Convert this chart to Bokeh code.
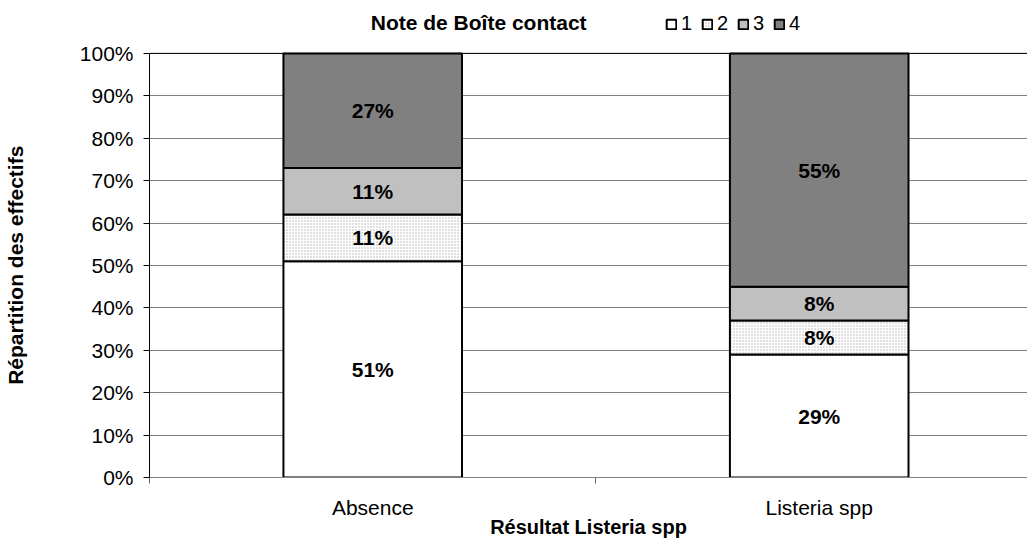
import numpy as np
from bokeh.plotting import figure
from bokeh.models import (ColumnDataSource, FixedTicker, NumeralTickFormatter,
                          Legend, LegendItem, Span, Range1d, Label)
from bokeh.core.properties import value
from bokeh.embed import file_html
from bokeh.resources import INLINE

# ---- data ----
categories = ["Absence", "Listeria spp"]
note_labels = ["1", "2", "3", "4"]
note1 = [51, 29]
note2 = [11, 8]
note3 = [11, 8]
note4 = [27, 55]
legend_title = "Note de Boîte contact"
y_title = "Répartition des effectifs"
x_title = "Résultat Listeria spp"

FONT = "Liberation Sans"
series = [note1, note2, note3, note4]
fills = ["#ffffff", "#ffffff", "#c0c0c0", "#808080"]
hatches = [" ", ".", " ", " "]

xpos = [i + 0.5 for i in range(len(categories))]
fr = np.array(series, dtype=float) / 100.0
cum = np.cumsum(fr, axis=0)
bottoms = cum - fr

# frame spans page y 0..478; 0..100% spans 425 px (53..478)
Y_TOP = 1 + 53 / 425
p = figure(width=1027, height=540, output_backend="svg", toolbar_location=None,
           title=None,
           x_range=Range1d(0, 881 / 448), y_range=Range1d(0, Y_TOP),
           min_border_left=146, min_border_right=0, min_border_top=0,
           min_border_bottom=62)
p.outline_line_color = None
p.background_fill_color = "white"

renderers = []
for i in range(4):
    src = ColumnDataSource(dict(x=xpos, top=cum[i], bottom=bottoms[i]))
    r = p.vbar(x="x", top="top", bottom="bottom", width=0.4, source=src,
               fill_color=fills[i], line_color="black", line_width=2,
               hatch_pattern=hatches[i], hatch_color="#b0b0b0",
               hatch_scale=3, hatch_weight=0.6)
    renderers.append(r)

# value labels
lx, ly, lt = [], [], []
for i in range(4):
    for j in range(len(categories)):
        lx.append(xpos[j])
        ly.append(bottoms[i][j] + fr[i][j] / 2)
        lt.append(f"{series[i][j]}%")
p.text(x=lx, y=ly, text=lt, text_align="center", text_baseline="middle",
       text_font=value(FONT), text_font_style="bold", text_font_size="21px",
       text_color="black")

p.add_layout(Span(location=1.0, dimension="width", line_color="black", line_width=1))

# y axis
p.yaxis.ticker = FixedTicker(ticks=[k / 10 for k in range(11)])
p.yaxis.bounds = (0, 1)
p.yaxis.formatter = NumeralTickFormatter(format="0%")
# trailing no-break spaces centre the rotated title on the 0-100% span
p.yaxis.axis_label = y_title + "\u00a0" * 9
p.yaxis.axis_label_text_font = FONT
p.yaxis.axis_label_text_font_style = "bold"
p.yaxis.axis_label_text_font_size = "21px"
p.yaxis.axis_label_text_color = "black"
p.yaxis.axis_label_standoff = 50
p.yaxis.major_label_text_font = FONT
p.yaxis.major_label_text_font_size = "21px"
p.yaxis.major_label_text_color = "black"
p.yaxis.major_label_standoff = 10
p.yaxis.axis_line_color = "black"
p.yaxis.major_tick_line_color = "black"
p.yaxis.major_tick_out = 6
p.yaxis.major_tick_in = 0
p.yaxis.minor_tick_line_color = None

# x axis
p.xaxis.ticker = FixedTicker(ticks=xpos, minor_ticks=[0, 1, 2])
p.xaxis.major_label_overrides = {xpos[j]: categories[j] for j in range(len(categories))}
p.xaxis.major_tick_line_color = None
p.xaxis.major_tick_out = 6
p.xaxis.minor_tick_line_color = "#606060"
p.xaxis.minor_tick_out = 6
p.xaxis.minor_tick_in = 0
p.xaxis.axis_line_color = "#808080"
p.xaxis.major_label_text_font = FONT
p.xaxis.major_label_text_font_size = "21px"
p.xaxis.major_label_text_color = "black"
p.xaxis.major_label_standoff = 12
p.xaxis.axis_label = x_title
p.xaxis.axis_label_text_font = FONT
p.xaxis.axis_label_text_font_style = "bold"
p.xaxis.axis_label_text_font_size = "20px"
p.xaxis.axis_label_text_color = "black"
p.xaxis.axis_label_standoff = -6

p.xgrid.grid_line_color = None
p.ygrid.grid_line_color = "#808080"
p.ygrid.grid_line_width = 1

# legend title
p.add_layout(Label(x=(368 - 146) / 448, y=1 + (53 - 22) / 425, text=legend_title,
                   text_font=FONT, text_font_style="bold", text_font_size="21px",
                   text_color="black", text_align="left", text_baseline="middle"))

legend = Legend(items=[LegendItem(label=note_labels[i], renderers=[renderers[i]]) for i in range(4)],
                orientation="horizontal", location=(516, 442),
                label_text_font=FONT, label_text_font_size="20px",
                label_text_color="black",
                glyph_width=12, glyph_height=12, label_standoff=4, spacing=0,
                padding=0, margin=0, border_line_color=None,
                background_fill_alpha=0)
p.add_layout(legend, "center")

open("out.html", "w").write(file_html(p, INLINE))
